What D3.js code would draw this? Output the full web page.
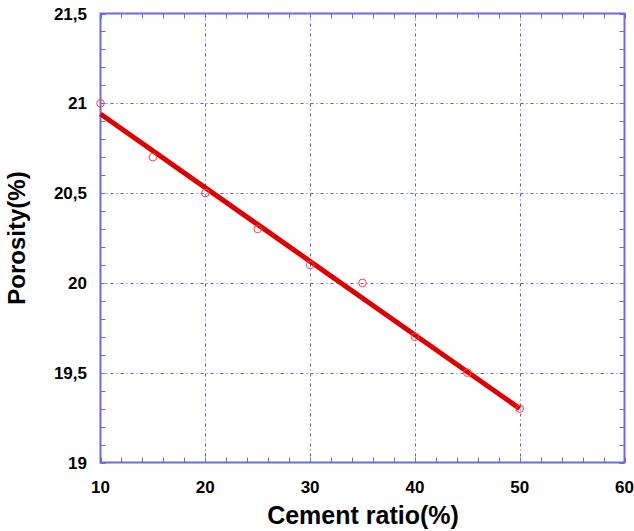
<!DOCTYPE html>
<html>
<head>
<meta charset="utf-8">
<script src="https://cdn.jsdelivr.net/npm/d3@7"></script>
<style>
 body { margin: 0; background: #fff; }
 text { font-family: Arial, "Liberation Sans", sans-serif; font-weight: bold; fill: #000; }
</style>
</head>
<body>
<script>
var cementRatio = [10, 15, 20, 25, 30, 35, 40, 45, 50];
var porosity = [21, 20.7, 20.5, 20.3, 20.1, 20.0, 19.7, 19.5, 19.3];
var fitX = [10, 50];
var fitY = [20.94, 19.30];
var xTicks = [10, 20, 30, 40, 50, 60];
var yTicks = [19, 19.5, 20, 20.5, 21, 21.5];

var W = 634, H = 531;
var L = 100.5, R = 624.5, T = 13.5, B = 462.5;

var svg = d3.select("body").append("svg").attr("width", W).attr("height", H);

var x = d3.scaleLinear().domain([10, 60]).range([L, R]);
var y = d3.scaleLinear().domain([19, 21.5]).range([B, T]);

var axisCol = "#6a6ae8";
var gridCol = "#5555f2";

/* grid lines, dash-dot */
svg.selectAll("line.gx").data(xTicks.slice(1, -1)).enter().append("line")
 .attr("x1", function(d) { return Math.round(x(d)) + 0.5; })
 .attr("x2", function(d) { return Math.round(x(d)) + 0.5; })
 .attr("y1", T).attr("y2", B)
 .attr("stroke", gridCol).attr("stroke-width", 1).attr("stroke-dasharray", "3,3,1,3");
svg.selectAll("line.gy").data(yTicks.slice(1, -1)).enter().append("line")
 .attr("y1", function(d) { return Math.round(y(d)) + 0.5; })
 .attr("y2", function(d) { return Math.round(y(d)) + 0.5; })
 .attr("x1", L).attr("x2", R)
 .attr("stroke", gridCol).attr("stroke-width", 1).attr("stroke-dasharray", "3,3,1,3");

/* minor ticks, inside on all four sides */
var xMinor = d3.range(10, 60.01, 2);
var yMinor = d3.range(19, 21.501, 0.1);
var tk = 5;
xMinor.forEach(function(v) {
 var px = Math.round(x(v)) + 0.5;
 svg.append("line").attr("x1", px).attr("x2", px).attr("y1", B).attr("y2", B - tk).attr("stroke", axisCol).attr("stroke-width", 1);
 svg.append("line").attr("x1", px).attr("x2", px).attr("y1", T).attr("y2", T + tk).attr("stroke", axisCol).attr("stroke-width", 1);
});
yMinor.forEach(function(v) {
 var py = Math.round(y(v)) + 0.5;
 svg.append("line").attr("y1", py).attr("y2", py).attr("x1", L).attr("x2", L + tk).attr("stroke", axisCol).attr("stroke-width", 1);
 svg.append("line").attr("y1", py).attr("y2", py).attr("x1", R).attr("x2", R - tk).attr("stroke", axisCol).attr("stroke-width", 1);
});

/* frame */
svg.append("rect").attr("x", L).attr("y", T).attr("width", R - L).attr("height", B - T)
 .attr("fill", "none").attr("stroke", axisCol).attr("stroke-width", 2);

/* tick labels */
svg.selectAll("text.xl").data(xTicks).enter().append("text")
 .attr("x", function(d) { return x(d); }).attr("y", 493)
 .attr("text-anchor", "middle").attr("font-size", 17)
 .text(function(d) { return d; });
svg.selectAll("text.yl").data(yTicks).enter().append("text")
 .attr("x", 87).attr("y", function(d) { return y(d) + 6; })
 .attr("text-anchor", "end").attr("font-size", 17)
 .text(function(d) { return String(d).replace(".", ","); });

/* axis titles */
svg.append("text").attr("x", 363).attr("y", 524).attr("text-anchor", "middle")
 .attr("font-size", 25).text("Cement ratio(%)");
svg.append("text").attr("transform", "translate(25," + ((T + B) / 2) + ") rotate(-90)")
 .attr("text-anchor", "middle").attr("font-size", 24).text("Porosity(%)");

/* fit line */
svg.append("line")
 .attr("x1", x(fitX[0])).attr("y1", y(fitY[0]))
 .attr("x2", x(fitX[1])).attr("y2", y(fitY[1]))
 .attr("stroke", "#dd0000").attr("stroke-width", 5);

/* data points */
svg.selectAll("circle").data(cementRatio).enter().append("circle")
 .attr("cx", function(d) { return x(d); })
 .attr("cy", function(d, i) { return y(porosity[i]); })
 .attr("r", 3.8).attr("fill", "none").attr("stroke", "#ff4040").attr("stroke-width", 1);
</script>
</body>
</html>
